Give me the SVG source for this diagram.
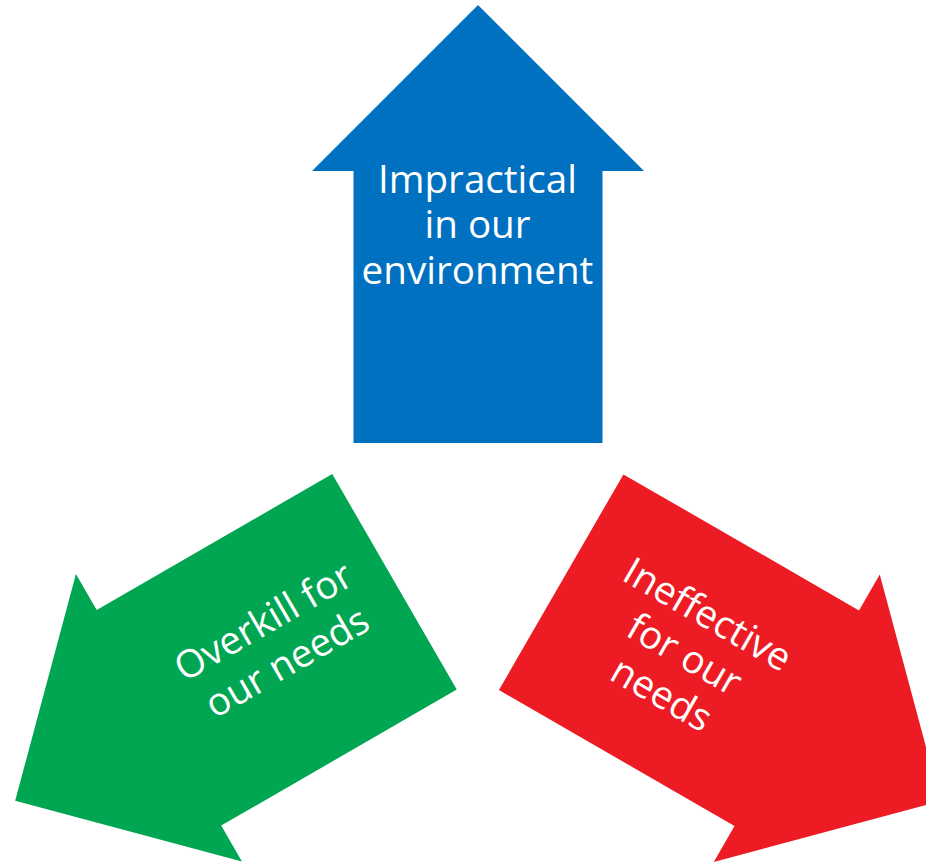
<svg xmlns="http://www.w3.org/2000/svg" width="926" height="862" viewBox="0 0 926 862">
<defs>
<style>
.lbl{font-family:"Open Sans","Noto Sans","Liberation Sans",sans-serif;font-size:38.6px;fill:#ffffff;text-anchor:middle}
</style>
<path id="arrow" d="M-124.5,0 L-124.5,-272 L-166,-272 L0,-438 L166,-272 L124.5,-272 L124.5,0 Z"/>
</defs>
<rect width="926" height="862" fill="#ffffff"/>
<g id="node-impractical">
<use href="#arrow" transform="translate(478,443)" fill="#0070C0"/>
<text class="lbl" x="477.5" y="192.7">Impractical</text>
<text class="lbl" x="477.5" y="238">in our</text>
<text class="lbl" x="477.5" y="283.5">environment</text>
</g>
<g id="node-overkill">
<use href="#arrow" transform="translate(394.5,581.8) rotate(-120)" fill="#00A651"/>
<g transform="translate(270,633) rotate(-30)">
<text class="lbl" x="0" y="0">Overkill for</text>
<text class="lbl" x="0" y="47">our needs</text>
</g>
</g>
<g id="node-ineffective">
<use href="#arrow" transform="translate(561.2,582.2) rotate(120)" fill="#ED1C24"/>
<g transform="translate(701,626) rotate(30)">
<text class="lbl" x="0" y="0">Ineffective</text>
<text class="lbl" x="0" y="46">for our</text>
<text class="lbl" x="0" y="92">needs</text>
</g>
</g>
<g id="connectors"></g>
</svg>
